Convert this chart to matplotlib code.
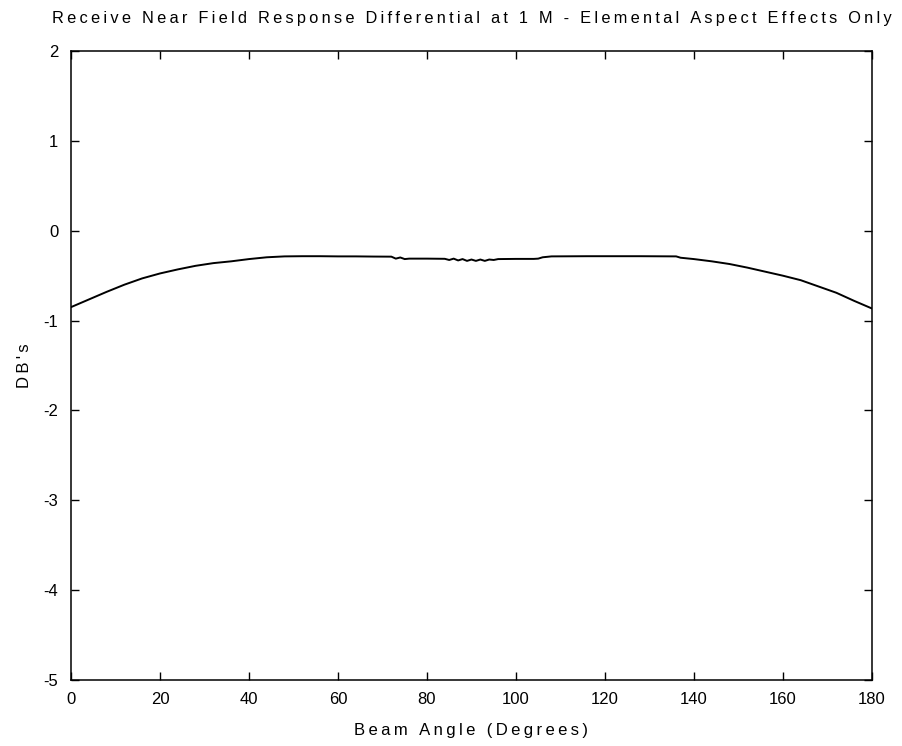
import matplotlib
matplotlib.use("Agg")
import matplotlib.pyplot as plt

# Beam angle (degrees) and near-field response differential (dB)
angles = [0, 4, 8, 12, 16, 20, 24, 28, 32, 36, 40, 44, 48, 52, 56, 60, 64, 68, 72,
          73, 74, 75, 76, 80, 84, 85, 86, 87, 88, 89, 90, 91, 92, 93, 94, 95, 96,
          100, 104, 105, 106, 107, 108, 112, 116, 120, 124, 128, 132, 136, 137,
          140, 144, 148, 152, 156, 160, 164, 168, 172, 176, 180]
response_db = [-0.85, -0.765, -0.68, -0.60, -0.53, -0.475, -0.43, -0.39, -0.36, -0.34,
               -0.315, -0.295, -0.285, -0.283, -0.283, -0.285, -0.285, -0.287, -0.288,
               -0.31, -0.297, -0.315, -0.31, -0.31, -0.312, -0.325, -0.31, -0.33, -0.315,
               -0.335, -0.32, -0.335, -0.32, -0.335, -0.32, -0.325, -0.315,
               -0.313, -0.313, -0.31, -0.295, -0.29, -0.285, -0.284, -0.283, -0.283,
               -0.283, -0.283, -0.284, -0.285, -0.30,
               -0.315, -0.34, -0.37, -0.41, -0.455, -0.50, -0.55, -0.62, -0.69, -0.78, -0.865]

x_ticks = [0, 20, 40, 60, 80, 100, 120, 140, 160, 180]
y_ticks = [-5, -4, -3, -2, -1, 0, 1, 2]

title_text = 'Receive Near Field Response Differential at 1 M - Elemental Aspect Effects Only'
x_label = 'Beam Angle (Degrees)'
y_label = "DB's"

plt.rcParams['font.family'] = ['Liberation Sans', 'DejaVu Sans']
plt.rcParams['axes.unicode_minus'] = False


def tracked(s):
    """Open up the letter spacing with thin spaces between characters."""
    return '\u2009'.join(s)


fig = plt.figure(figsize=(9.03, 7.46), dpi=100)
ax = fig.add_axes([0.0786, 0.0885, 0.887, 0.843])

ax.plot(angles, response_db, color='black', linewidth=1.4)

ax.set_xlim(0, 180)
ax.set_ylim(-5, 2)
ax.set_xticks(x_ticks)
ax.set_yticks(y_ticks)
ax.set_xticklabels([str(v) for v in x_ticks])
ax.set_yticklabels([str(v) for v in y_ticks])
ax.tick_params(direction='in', length=6, width=1, top=True, right=True,
               labelsize=12, colors='black', pad=9)
for s in ax.spines.values():
    s.set_linewidth(1.1)

ax.set_xlabel(tracked(x_label), fontsize=12, labelpad=11)
ax.set_ylabel(tracked(y_label), fontsize=12, labelpad=8)
ax.set_title(tracked(title_text), fontsize=11.8, pad=20)

fig.savefig('out.png', dpi=100)
